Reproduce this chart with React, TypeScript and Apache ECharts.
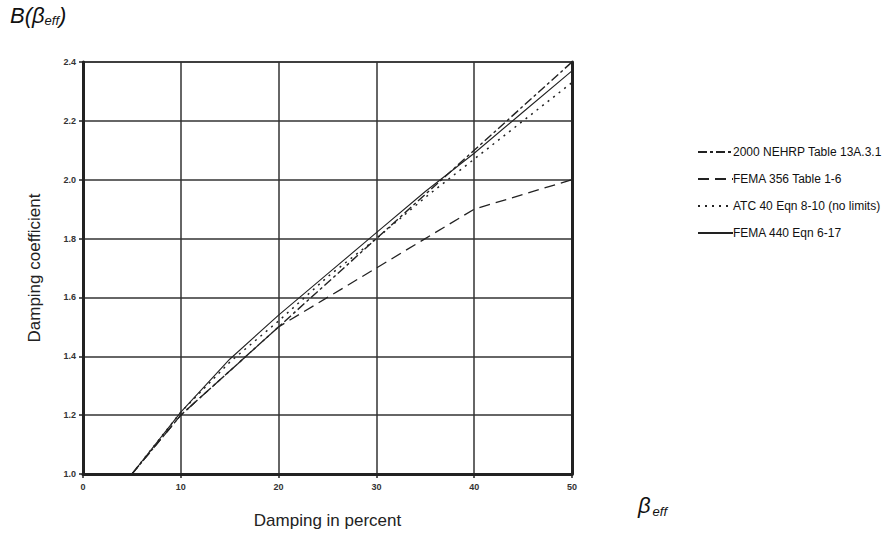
import React, { useEffect, useRef } from "react";
import * as echarts from "echarts";

const dampingPct = [5, 10, 15, 20, 25, 30, 35, 40, 45, 50];
const nehrp2000 = [1.0, 1.2, 1.35, 1.5, 1.65, 1.8, 1.95, 2.1, 2.25, 2.4];
const fema356 = [1.0, 1.2, 1.35, 1.5, 1.6, 1.7, 1.8, 1.9, 1.95, 2.0];
const atc40 = [1.0, 1.21, 1.38, 1.52, 1.67, 1.8, 1.94, 2.07, 2.2, 2.33];
const fema440 = [1.0, 1.21, 1.39, 1.54, 1.68, 1.82, 1.96, 2.09, 2.23, 2.37];
const seriesNames = [
  "2000 NEHRP Table 13A.3.1",
  "FEMA 356 Table 1-6",
  "ATC 40 Eqn 8-10 (no limits)",
  "FEMA 440 Eqn 6-17",
];
const xTicks = [0, 10, 20, 30, 40, 50];
const yTicks = [1.0, 1.2, 1.4, 1.6, 1.8, 2.0, 2.2, 2.4];

export default function App() {
  const ref = useRef<HTMLDivElement>(null);
  useEffect(() => {
    document.body.style.margin = "0";
    if (!ref.current) return;
    const chart = echarts.init(ref.current, null, { renderer: "svg" });
    const pairs = (ys: number[]) => dampingPct.map((x, i) => [x, ys[i]]);
    const lineColor = "#222";
    const mk = (name: string, ys: number[], type: any, width = 1.3) => ({
      name,
      type: "line",
      data: pairs(ys),
      symbol: "none",
      smooth: false,
      lineStyle: { color: lineColor, width, type },
      itemStyle: { color: lineColor },
    });
    chart.setOption({
      animation: false,
      backgroundColor: "#fff",
      title: {
        text: "B(β{sub|eff})",
        left: 10,
        top: 4,
        padding: 0,
        textStyle: {
          fontFamily: "Liberation Sans",
          fontStyle: "italic",
          fontSize: 22,
          fontWeight: "normal",
          color: "#111",
          rich: {
            sub: {
              fontFamily: "Liberation Sans",
              fontStyle: "italic",
              fontSize: 13,
              color: "#111",
              verticalAlign: "bottom",
              padding: [10, 0, 0, 0],
            },
          },
        },
      },
      legend: {
        orient: "vertical",
        left: 697,
        top: 146,
        padding: 0,
        itemWidth: 35,
        itemHeight: 8,
        itemGap: 15,
        itemStyle: { opacity: 0 },
        textStyle: {
          fontFamily: "Liberation Sans",
          fontSize: 12,
          color: "#111",
          padding: [0, 0, 0, -5],
        },
        data: seriesNames,
      },
      grid: {
        left: 83,
        right: 318,
        top: 62,
        bottom: 64,
        show: true,
        borderColor: "#333",
        borderWidth: 1.5,
      },
      xAxis: {
        type: "value",
        min: 0,
        max: 50,
        interval: 10,
        name: "Damping in percent",
        nameLocation: "middle",
        nameGap: 38,
        nameTextStyle: { fontFamily: "Liberation Sans", fontSize: 17, color: "#222" },
        axisLine: { show: true, onZero: false, lineStyle: { color: "#222", width: 3 } },
        axisTick: { show: true, length: 4, lineStyle: { color: "#222", width: 1.5 } },
        axisLabel: {
          fontFamily: "Liberation Sans",
          fontWeight: "bold",
          fontSize: 9,
          color: "#333",
          margin: 8,
          customValues: xTicks,
        },
        splitLine: { show: true, lineStyle: { color: "#333", width: 1.5 } },
      },
      yAxis: [
        {
          type: "value",
          min: 1.0,
          max: 2.4,
          interval: 0.2,
          name: "Damping coefficient",
          nameLocation: "middle",
          nameGap: 40,
          nameRotate: 90,
          nameTextStyle: { fontFamily: "Liberation Sans", fontSize: 17, color: "#222" },
          axisLine: { show: true, lineStyle: { color: "#222", width: 3 } },
          axisTick: { show: true, length: 4, lineStyle: { color: "#222", width: 1.5 } },
          axisLabel: {
            fontFamily: "Liberation Sans",
            fontWeight: "bold",
            fontSize: 9,
            color: "#333",
            margin: 7,
            formatter: (v: number) => v.toFixed(1),
            customValues: yTicks,
          },
          splitLine: { show: true, lineStyle: { color: "#333", width: 1.5 } },
        },
        {
          type: "value",
          position: "right",
          min: 1.0,
          max: 2.4,
          interval: 0.2,
          axisLine: { show: true, lineStyle: { color: "#222", width: 3 } },
          axisTick: { show: false },
          axisLabel: { show: false },
          splitLine: { show: false },
        },
      ],
      graphic: [
        {
          type: "text",
          left: 638,
          top: 494,
          style: {
            text: "β{sub|eff}",
            fontFamily: "Liberation Sans",
            fontStyle: "italic",
            fontSize: 22,
            fill: "#111",
            rich: {
              sub: {
                fontFamily: "Liberation Sans",
                fontStyle: "italic",
                fontSize: 13,
                fill: "#111",
                padding: [12, 0, 0, 2],
              },
            },
          },
        },
      ],
      series: [
        mk(seriesNames[0], nehrp2000, [9, 3, 3, 3], 1.4),
        mk(seriesNames[1], fema356, [11, 6], 1.3),
        mk(seriesNames[2], atc40, [2, 5], 1.5),
        mk(seriesNames[3], fema440, "solid", 1.1),
      ],
    });
    return () => chart.dispose();
  }, []);
  return <div ref={ref} style={{ width: 890, height: 538 }} />;
}
